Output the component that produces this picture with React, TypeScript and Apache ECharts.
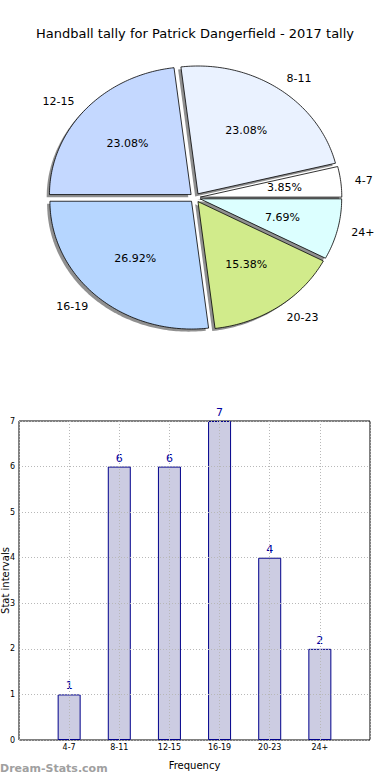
import React, { useEffect, useRef } from "react";
import * as echarts from "echarts";

const categories = ["4-7", "8-11", "12-15", "16-19", "20-23", "24+"];
const counts = [1, 6, 6, 7, 4, 2];
const pieColors = ["#ffffff", "#eaf2ff", "#c4d8ff", "#b6d6ff", "#d1eb8b", "#dcffff"];
const yTicks = [0, 1, 2, 3, 4, 5, 6, 7];
const titleText = "Handball tally for Patrick Dangerfield - 2017 tally";

const FONT = "DejaVu Sans";

export default function App() {
  const ref = useRef<HTMLDivElement>(null);
  useEffect(() => {
    document.body.style.margin = "0";
    if (!ref.current) return;
    const chart = echarts.init(ref.current, null, { renderer: "svg" });
    const total = counts.reduce((a, b) => a + b, 0);
    const cx = 195, cy = 197.7, rx = 141.6, ry = 127.8, f = 0.037;
    const sdx = -2.8, sdy = 2.6;

    const renderItem = (params: any) => {
      const i = params.dataIndex;
      const before = counts.slice(0, i).reduce((a, b) => a + b, 0);
      const a0 = (before / total) * Math.PI * 2;
      const a1 = ((before + counts[i]) / total) * Math.PI * 2;
      const mid = (a0 + a1) / 2;
      const ox = cx + f * rx * Math.cos(mid);
      const oy = cy - f * ry * Math.sin(mid);
      const pts: number[][] = [[ox, oy]];
      const steps = Math.max(4, Math.ceil(((a1 - a0) * 180) / Math.PI));
      for (let k = 0; k <= steps; k++) {
        const a = a0 + ((a1 - a0) * k) / steps;
        pts.push([ox + rx * Math.cos(a), oy - ry * Math.sin(a)]);
      }
      const spts = pts.map((p) => [p[0] + sdx, p[1] + sdy]);
      const pct = ((counts[i] / total) * 100).toFixed(2) + "%";
      const cosm = Math.cos(mid);
      return {
        type: "group",
        children: [
          {
            type: "polygon",
            z2: 0,
            shape: { points: spts },
            style: { fill: "rgba(70,70,70,0.6)", stroke: "none" },
          },
          {
            type: "polygon",
            z2: 10,
            shape: { points: pts },
            style: { fill: pieColors[i], stroke: "#000", lineWidth: 0.8 },
          },
          {
            type: "text",
            z2: 20,
            x: ox + 0.6 * rx * cosm,
            y: oy - 0.6 * ry * Math.sin(mid),
            style: {
              text: pct,
              fontSize: 11,
              fontFamily: FONT,
              fill: "#000",
              align: "center",
              verticalAlign: "middle",
            },
          },
          {
            type: "text",
            z2: 20,
            x: ox + 1.1 * rx * cosm,
            y: oy - 1.1 * ry * Math.sin(mid),
            style: {
              text: categories[i],
              fontSize: 11,
              fontFamily: FONT,
              fill: "#000",
              align: cosm >= 0 ? "left" : "right",
              verticalAlign: "middle",
            },
          },
        ],
      };
    };

    chart.setOption({
      animation: false,
      backgroundColor: "#fff",
      title: {
        text: titleText,
        left: "center",
        top: 22,
        textStyle: { fontFamily: FONT, fontSize: 13, fontWeight: "normal", color: "#000" },
      },
      graphic: [
        {
          type: "text",
          left: 0,
          top: 763,
          style: {
            text: "Dream-Stats.com",
            fontFamily: FONT,
            fontSize: 11,
            fontWeight: "bold",
            fill: "#a0a0a0",
          },
        },
      ],
      grid: {
        left: 19,
        top: 421,
        width: 351,
        height: 319,
        containLabel: false,
        outerBoundsMode: "none",
        show: true,
        borderColor: "#000",
        borderWidth: 1,
        backgroundColor: "transparent",
      },
      xAxis: {
        type: "value",
        min: 0,
        max: 7,
        interval: 1,
        z: 5,
        name: "Frequency",
        nameLocation: "middle",
        nameGap: 20,
        nameMoveOverlap: false,
        nameTextStyle: { fontFamily: FONT, fontSize: 10, color: "#000" },
        axisLine: { show: false },
        axisTick: { show: false },
        axisLabel: {
          fontFamily: FONT,
          fontSize: 8,
          color: "#000",
          margin: 3,
          formatter: (v: number) => categories[v - 1] || "",
        },
        splitLine: { show: true, lineStyle: { color: "#b8b8b8", type: [1, 2], width: 1 } },
      },
      yAxis: {
        type: "value",
        min: yTicks[0],
        max: yTicks[yTicks.length - 1],
        interval: 1,
        z: 5,
        name: "Stat intervals",
        nameLocation: "middle",
        nameGap: 9,
        nameMoveOverlap: false,
        nameTextStyle: { fontFamily: FONT, fontSize: 10, color: "#000" },
        axisLine: { show: false },
        axisTick: { show: false },
        axisLabel: { fontFamily: FONT, fontSize: 8, color: "#000", margin: 4 },
        splitLine: { show: true, lineStyle: { color: "#b8b8b8", type: [1, 2], width: 1 } },
      },
      series: [
        {
          type: "custom",
          coordinateSystem: "none",
          renderItem,
          data: counts.map((c, i) => [c, i]),
          silent: true,
        },
        {
          type: "bar",
          barWidth: 23,
          data: counts.map((c, i) => [i + 1, c]),
          itemStyle: { color: "#cccce2", borderColor: "#00008b", borderWidth: 1 },
          label: {
            show: true,
            position: "top",
            distance: 3,
            fontFamily: FONT,
            fontSize: 11,
            color: "#0000a0",
          },
        },
      ],
    });
    return () => chart.dispose();
  }, []);
  return <div ref={ref} style={{ width: 390, height: 780 }} />;
}
